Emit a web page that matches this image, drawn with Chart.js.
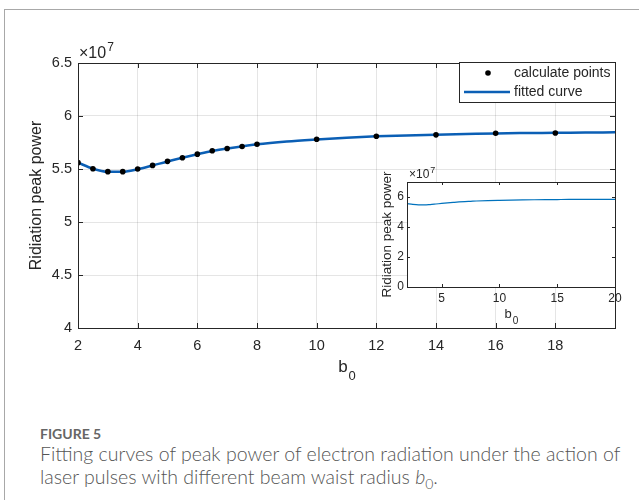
<!DOCTYPE html>
<html>
<head>
<meta charset="utf-8">
<script src="https://cdn.jsdelivr.net/npm/chart.js@4.4.0/dist/chart.umd.min.js"></script>
<style>
  body { margin: 0; background: #fff; width: 639px; height: 500px; position: relative; overflow: hidden; }
  #frameTop { position: absolute; left: 4px; top: 9px; width: 635px; height: 1px; background: #a8a8a8; }
  #frameLeft { position: absolute; left: 4px; top: 9px; width: 1px; height: 491px; background: #a8a8a8; }
  #main { position: absolute; left: 0; top: 0; }
  #inset { position: absolute; left: 370px; top: 160px; }
  .caption { position: absolute; left: 40px; font-family: Lato, "Open Sans", sans-serif; color: #555; }
  #figno { top: 425px; font-size: 14px; font-weight: bold; color: #666; }
  #figtext { top: 442px; font-size: 19.5px; font-weight: 300; line-height: 23px; width: 596px; }
</style>
</head>
<body>
<div id="frameTop"></div>
<div id="frameLeft"></div>
<canvas id="main" width="639" height="400"></canvas>
<canvas id="inset" width="260" height="180"></canvas>
<div class="caption" id="figno">FIGURE 5</div>
<div class="caption" id="figtext">Fitting curves of peak power of electron radiation under the action of laser pulses with different beam waist radius <i>b</i><sub style="font-size:14px">0</sub>.</div>
<script>
// calculated points (peak power in units of 1e7)
const b0Points = [2, 2.5, 3, 3.5, 4, 4.5, 5, 5.5, 6, 6.5, 7, 7.5, 8, 10, 12, 14, 16, 18];
const peakPoints = [5.56, 5.503, 5.475, 5.475, 5.50, 5.534, 5.572, 5.606, 5.64, 5.672, 5.694, 5.712, 5.734, 5.78, 5.809, 5.822, 5.837, 5.84];

// fitted curve
const b0Fit = [2, 2.5, 3, 3.5, 4, 4.5, 5, 5.5, 6, 6.5, 7, 7.5, 8, 9, 10, 11, 12, 13, 14, 15, 16, 17, 18, 19, 20];
const peakFit = [5.56, 5.503, 5.474, 5.473, 5.497, 5.533, 5.571, 5.606, 5.639, 5.67, 5.694, 5.713, 5.733, 5.760, 5.779, 5.795, 5.808, 5.817, 5.824, 5.830, 5.836, 5.839, 5.841, 5.844, 5.846];

const mainXTicks = [2, 4, 6, 8, 10, 12, 14, 16, 18];
const mainYTicks = [4, 4.5, 5, 5.5, 6, 6.5];
const insetXTicks = [5, 10, 15, 20];
const insetYTicks = [0, 2, 4, 6];

const axisColor = '#262626';
const fitBlue = '#0b5fb5';
const tickFont = 'Liberation Sans, Arial, sans-serif';

function toXY(xs, ys) {
    return xs.map((x, i) => ({ x: x, y: ys[i] }));
}

// box + inward ticks, matlab style
function drawBox(chart, len) {
    const ctx = chart.ctx;
    const a = chart.chartArea;
    const xs = chart.scales.x, ys = chart.scales.y;
    ctx.save();
    ctx.strokeStyle = axisColor;
    ctx.lineWidth = 1;
    ctx.strokeRect(Math.round(a.left) + 0.5, Math.round(a.top) + 0.5, Math.round(a.right - a.left), Math.round(a.bottom - a.top));
    ctx.beginPath();
    xs.ticks.forEach(t => {
        const px = Math.round(xs.getPixelForValue(t.value)) + 0.5;
        ctx.moveTo(px, a.bottom); ctx.lineTo(px, a.bottom - len);
        ctx.moveTo(px, a.top); ctx.lineTo(px, a.top + len);
    });
    ys.ticks.forEach(t => {
        const py = Math.round(ys.getPixelForValue(t.value)) + 0.5;
        ctx.moveTo(a.left, py); ctx.lineTo(a.left + len, py);
        ctx.moveTo(a.right, py); ctx.lineTo(a.right - len, py);
    });
    ctx.stroke();
    ctx.restore();
}

function drawSubLabel(ctx, base, sub, x, y, size) {
    ctx.font = size + 'px ' + tickFont;
    const w1 = ctx.measureText(base).width;
    ctx.font = Math.round(size * 0.75) + 'px ' + tickFont;
    const w2 = ctx.measureText(sub).width;
    const start = x - (w1 + w2) / 2;
    ctx.font = size + 'px ' + tickFont;
    ctx.textAlign = 'left';
    ctx.textBaseline = 'alphabetic';
    ctx.fillText(base, start, y);
    ctx.font = Math.round(size * 0.75) + 'px ' + tickFont;
    ctx.fillText(sub, start + w1 + 1, y + size * 0.45);
}

function drawExp(ctx, x, y, size) {
    ctx.font = size + 'px ' + tickFont;
    ctx.textAlign = 'left';
    ctx.textBaseline = 'alphabetic';
    ctx.fillText('\u00d710', x, y);
    const w = ctx.measureText('\u00d710').width;
    ctx.font = Math.round(size * 0.75) + 'px ' + tickFont;
    ctx.fillText('7', x + w + 1, y - size * 0.45);
}

const mainDecor = {
    id: 'mainDecor',
    afterDraw(chart) {
        const ctx = chart.ctx;
        const a = chart.chartArea;
        drawBox(chart, 5);
        ctx.save();
        ctx.fillStyle = axisColor;
        drawExp(ctx, a.left + 1, a.top - 5, 16);
        drawSubLabel(ctx, 'b', '0', (a.left + a.right) / 2, 372, 17);
        ctx.translate(37, (a.top + a.bottom) / 2);
        ctx.rotate(-Math.PI / 2);
        ctx.font = '16px ' + tickFont;
        ctx.textAlign = 'center';
        ctx.textBaseline = 'middle';
        ctx.fillText('Ridiation peak power', 0, 0);
        ctx.restore();

        // legend box in the upper right corner
        const lx = 459, ly = a.top - 1, lw = a.right - 459, lh = 40;
        ctx.save();
        ctx.fillStyle = '#fff';
        ctx.fillRect(lx, ly, lw, lh);
        ctx.strokeStyle = axisColor;
        ctx.lineWidth = 1;
        ctx.strokeRect(lx + 0.5, ly + 0.5, lw, lh);
        ctx.fillStyle = '#000';
        ctx.beginPath();
        ctx.arc(488, ly + 11, 2.8, 0, Math.PI * 2);
        ctx.fill();
        ctx.strokeStyle = fitBlue;
        ctx.lineWidth = 2.5;
        ctx.beginPath();
        ctx.moveTo(464, ly + 30); ctx.lineTo(510, ly + 30);
        ctx.stroke();
        ctx.fillStyle = axisColor;
        ctx.font = '14px ' + tickFont;
        ctx.textAlign = 'left';
        ctx.textBaseline = 'middle';
        ctx.fillText('calculate points', 514, ly + 11);
        ctx.fillText('fitted curve', 514, ly + 30);
        ctx.restore();
    }
};

new Chart(document.getElementById('main').getContext('2d'), {
    type: 'scatter',
    data: {
        datasets: [
            {
                label: 'calculate points',
                data: toXY(b0Points, peakPoints),
                showLine: false,
                pointRadius: 2.8,
                pointBackgroundColor: '#000',
                pointBorderWidth: 0,
                order: 0
            },
            {
                label: 'fitted curve',
                data: toXY(b0Fit, peakFit),
                showLine: true,
                borderColor: fitBlue,
                borderWidth: 2.5,
                pointRadius: 0,
                cubicInterpolationMode: 'monotone',
                order: 1
            }
        ]
    },
    options: {
        responsive: false,
        animation: false,
        layout: { padding: { top: 63, right: 24, left: 0, bottom: 0 } },
        plugins: { legend: { display: false }, tooltip: { enabled: false } },
        scales: {
            x: {
                type: 'linear', min: 2, max: 20,
                afterBuildTicks: s => { s.ticks = mainXTicks.map(v => ({ value: v })); },
                afterFit: s => { s.height = 72; },
                grid: { color: 'rgba(0,0,0,0.1)', drawTicks: false },
                border: { display: false },
                ticks: { color: axisColor, font: { family: tickFont, size: 14.5 }, padding: 9, maxRotation: 0,
                         callback: v => String(v) }
            },
            y: {
                min: 4, max: 6.5,
                afterBuildTicks: s => { s.ticks = mainYTicks.map(v => ({ value: v })); },
                afterFit: s => { s.width = 78; },
                grid: { color: 'rgba(0,0,0,0.1)', drawTicks: false },
                border: { display: false },
                ticks: { color: axisColor, font: { family: tickFont, size: 14.5 }, padding: 6,
                         callback: v => String(v) }
            }
        }
    },
    plugins: [mainDecor]
});

const insetDecor = {
    id: 'insetDecor',
    beforeDraw(chart) {
        const a = chart.chartArea;
        chart.ctx.save();
        chart.ctx.fillStyle = '#fff';
        chart.ctx.fillRect(a.left, a.top, a.right - a.left, a.bottom - a.top);
        chart.ctx.restore();
    },
    afterDraw(chart) {
        const ctx = chart.ctx;
        const a = chart.chartArea;
        drawBox(chart, 3);
        ctx.save();
        ctx.fillStyle = axisColor;
        drawExp(ctx, a.left + 2, a.top - 4, 12);
        drawSubLabel(ctx, 'b', '0', 141, 158, 13);
        ctx.translate(17, (a.top + a.bottom) / 2);
        ctx.rotate(-Math.PI / 2);
        ctx.font = '13.5px ' + tickFont;
        ctx.textAlign = 'center';
        ctx.textBaseline = 'middle';
        ctx.fillText('Ridiation peak power', 0, 0);
        ctx.restore();
    }
};

new Chart(document.getElementById('inset').getContext('2d'), {
    type: 'scatter',
    data: {
        datasets: [{
            data: toXY(b0Fit, peakFit),
            showLine: true,
            borderColor: '#0072bd',
            borderWidth: 1.2,
            pointRadius: 0,
            cubicInterpolationMode: 'monotone'
        }]
    },
    options: {
        responsive: false,
        animation: false,
        layout: { padding: { top: 22, right: 15, left: 0, bottom: 0 } },
        plugins: { legend: { display: false }, tooltip: { enabled: false } },
        scales: {
            x: {
                type: 'linear', min: 2, max: 20,
                afterBuildTicks: s => { s.ticks = insetXTicks.map(v => ({ value: v })); },
                afterFit: s => { s.height = 53; },
                grid: { display: false, drawTicks: false },
                border: { display: false },
                ticks: { color: axisColor, font: { family: tickFont, size: 12 }, padding: 4, maxRotation: 0 }
            },
            y: {
                min: 0, max: 7,
                afterBuildTicks: s => { s.ticks = insetYTicks.map(v => ({ value: v })); },
                afterFit: s => { s.width = 37; },
                grid: { display: false, drawTicks: false },
                border: { display: false },
                ticks: { color: axisColor, font: { family: tickFont, size: 12 }, padding: 3 }
            }
        }
    },
    plugins: [insetDecor]
});
</script>
</body>
</html>
